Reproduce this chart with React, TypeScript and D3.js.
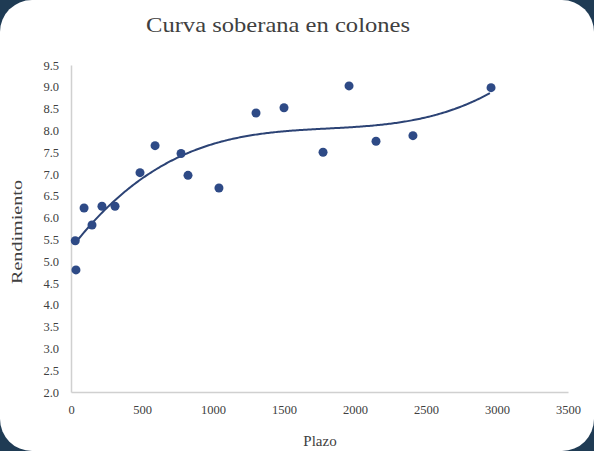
import React, { useEffect, useRef } from 'react';
import * as d3 from 'd3';

// Plazo (días) y rendimiento (%)
const plazo = [35, 30, 92, 148, 218, 310, 486, 592, 775, 824, 1042, 1303, 1500, 1775, 1958, 2148, 2408, 2958];
const rendimiento = [4.8, 5.47, 6.22, 5.83, 6.26, 6.26, 7.03, 7.65, 7.47, 6.97, 6.68, 8.4, 8.52, 7.5, 9.02, 7.75, 7.88, 8.98];
const xTicks = [0, 500, 1000, 1500, 2000, 2500, 3000, 3500];
const yTicks = [2.0, 2.5, 3.0, 3.5, 4.0, 4.5, 5.0, 5.5, 6.0, 6.5, 7.0, 7.5, 8.0, 8.5, 9.0, 9.5];

// ajuste polinómico por mínimos cuadrados (línea de tendencia)
function polyFit(xs: number[], ys: number[], deg: number) {
  const n = deg + 1;
  const A: number[][] = Array.from({ length: n }, () => new Array(n + 1).fill(0));
  xs.forEach((x0, k) => {
    const x = x0 / 1000;
    for (let i = 0; i < n; i++) {
      for (let j = 0; j < n; j++) A[i][j] += Math.pow(x, i + j);
      A[i][n] += ys[k] * Math.pow(x, i);
    }
  });
  for (let c = 0; c < n; c++) {
    let p = c;
    for (let r = c + 1; r < n; r++) if (Math.abs(A[r][c]) > Math.abs(A[p][c])) p = r;
    [A[c], A[p]] = [A[p], A[c]];
    for (let r = 0; r < n; r++) {
      if (r === c) continue;
      const f = A[r][c] / A[c][c];
      for (let j = c; j <= n; j++) A[r][j] -= f * A[c][j];
    }
  }
  const coef = A.map((row, i) => row[n] / row[i]);
  return (x0: number) => coef.reduce((s, c, i) => s + c * Math.pow(x0 / 1000, i), 0);
}

const Chart: React.FC = () => {
  const svgRef = useRef<SVGSVGElement>(null);

  useEffect(() => {
    const width = 594;
    const height = 451;
    const font = '"Liberation Serif", serif';
    const svg = d3.select(svgRef.current);
    svg.selectAll('*').remove();

    svg.append('rect').attr('width', width).attr('height', height).attr('fill', '#1f3b54');
    svg.append('rect')
      .attr('x', 0).attr('y', 0)
      .attr('width', width).attr('height', height)
      .attr('rx', 32).attr('fill', '#ffffff');

    const x = d3.scaleLinear().domain([0, 3500]).range([71, 568]);
    const y = d3.scaleLinear().domain([2, 9.5]).range([392, 65]);

    const xAxis = svg.append('g')
      .attr('transform', `translate(0, ${y(2)})`)
      .call(d3.axisBottom(x).tickValues(xTicks).tickSize(0).tickPadding(13).tickFormat(d3.format('d')));
    xAxis.select('.domain').attr('stroke', '#d0d0d0').attr('stroke-width', 1.5);
    xAxis.selectAll('text').attr('font-family', font).attr('font-size', 12.5).attr('fill', '#404040');

    const yAxis = svg.append('g')
      .attr('transform', `translate(${x(0)}, 0)`)
      .call(d3.axisLeft(y).tickValues(yTicks).tickSize(0).tickPadding(12).tickFormat(d3.format('.1f')));
    yAxis.select('.domain').attr('stroke', '#d0d0d0').attr('stroke-width', 1.5);
    yAxis.selectAll('text').attr('font-family', font).attr('font-size', 12.5).attr('fill', '#404040');

    const fit = polyFit(plazo, rendimiento, 3);
    const xs = d3.range(d3.min(plazo)!, d3.max(plazo)! + 1, 10);
    const line = d3.line<number>().x(d => x(d)).y(d => y(fit(d)));
    svg.append('path')
      .datum(xs)
      .attr('d', line)
      .attr('fill', 'none')
      .attr('stroke', '#2c4375')
      .attr('stroke-width', 2);

    svg.selectAll('circle.pt')
      .data(plazo)
      .enter()
      .append('circle')
      .attr('class', 'pt')
      .attr('cx', (d) => x(d))
      .attr('cy', (_, i) => y(rendimiento[i]))
      .attr('r', 4.5)
      .attr('fill', '#2e4a86');

    svg.append('text')
      .attr('x', 146).attr('y', 32)
      .attr('textLength', 264).attr('lengthAdjust', 'spacingAndGlyphs')
      .attr('font-family', font).attr('font-size', 21).attr('fill', '#404040')
      .text('Curva soberana en colones');

    svg.append('text')
      .attr('x', 320).attr('y', 446)
      .attr('text-anchor', 'middle')
      .attr('font-family', font).attr('font-size', 15).attr('fill', '#404040')
      .text('Plazo');

    svg.append('text')
      .attr('transform', 'translate(22, 232) rotate(-90)')
      .attr('text-anchor', 'middle')
      .attr('textLength', 104).attr('lengthAdjust', 'spacingAndGlyphs')
      .attr('font-family', font).attr('font-size', 15).attr('fill', '#404040')
      .text('Rendimiento');
  }, []);

  return <svg ref={svgRef} width={594} height={451} style={{ display: 'block' }}></svg>;
};

export default function App() {
  return (
    <div style={{ position: 'absolute', left: 0, top: 0 }}>
      <Chart />
    </div>
  );
}
